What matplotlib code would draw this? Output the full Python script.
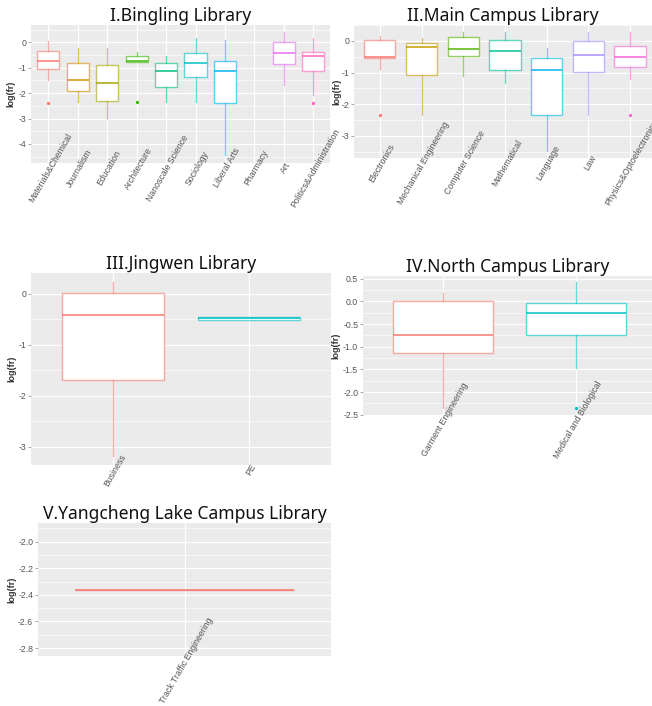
import numpy as np
import matplotlib
matplotlib.use("Agg")
import matplotlib.pyplot as plt
from matplotlib.patches import Rectangle
from matplotlib.colors import to_rgba
from matplotlib.ticker import MultipleLocator, FormatStrFormatter

plt.rcParams['axes.unicode_minus'] = False
plt.rcParams['font.family'] = ['Liberation Sans', 'DejaVu Sans']

# ---------------- data ----------------
p1_title = "I.Bingling Library"
p1_cats = ["Materials&Chemical", "Journalism", "Education", "Architecture", "Nanoscale Science",
           "Sociology", "Liberal Arts", "Pharmacy", "Art", "Politics&Administration"]
p1_q1 = [-1.05, -1.92, -2.31, -0.76, -1.76, -1.38, -2.38, np.nan, -0.85, -1.12]
p1_med = [-0.74, -1.50, -1.60, -0.74, -1.12, -0.83, -1.12, np.nan, -0.42, -0.54]
p1_q3 = [-0.36, -0.83, -0.91, -0.54, -0.83, -0.43, -0.75, np.nan, 0.00, -0.39]
p1_lo = [-1.47, -2.34, -3.03, -0.76, -2.34, -2.36, -4.44, np.nan, -1.68, -2.07]
p1_hi = [0.06, -0.21, -0.21, -0.39, -0.54, 0.17, 0.09, np.nan, 0.42, 0.18]
p1_out = [[-2.38], [], [], [-2.36], [], [], [], [], [], [-2.38]]

p2_title = "II.Main Campus Library"
p2_cats = ["Electronics", "Mechanical Engineering", "Computer Science", "Mathematical",
           "Language", "Law", "Physics&Optoelectronics"]
p2_q1 = [-0.54, -1.08, -0.47, -0.92, -2.35, -0.98, -0.83]
p2_med = [-0.52, -0.20, -0.27, -0.32, -0.93, -0.45, -0.52]
p2_q3 = [0.03, -0.07, 0.11, 0.04, -0.53, -0.02, -0.15]
p2_lo = [-0.89, -2.34, -1.10, -1.32, -3.49, -2.34, -1.21]
p2_hi = [0.14, 0.08, 0.29, 0.27, -0.23, 0.27, 0.29]
p2_out = [[-2.35], [], [], [], [], [], [-2.35]]

p3_title = "III.Jingwen Library"
p3_cats = ["Business", "PE"]
p3_q1 = [-1.69, -0.51]
p3_med = [-0.42, -0.48]
p3_q3 = [0.02, -0.45]
p3_lo = [-3.18, -0.51]
p3_hi = [0.24, -0.45]
p3_out = [[], []]

p4_title = "IV.North Campus Library"
p4_cats = ["Garment Engineering", "Medical and Biological"]
p4_q1 = [-1.13, -0.74]
p4_med = [-0.74, -0.26]
p4_q3 = [0.00, -0.04]
p4_lo = [-2.34, -1.47]
p4_hi = [0.19, 0.43]
p4_out = [[], [-2.35]]

p5_title = "V.Yangcheng Lake Campus Library"
p5_cats = ["Track Traffic Engineering"]
p5_q1 = [-2.36]
p5_med = [-2.36]
p5_q3 = [-2.36]
p5_lo = [-2.36]
p5_hi = [-2.36]
p5_out = [[]]

pal10 = ["#F8766D", "#D89000", "#A3A500", "#39B600", "#00BF7D", "#00BFC4", "#00B0F6", "#9590FF", "#E76BF3", "#FF62BC"]
pal7 = ["#F8766D", "#C49A00", "#53B400", "#00C094", "#00B6EB", "#A58AFF", "#FB61D7"]
pal2 = ["#F8766D", "#00BFC4"]
pal1 = ["#F8766D"]

W, H = 652, 706
fig = plt.figure(figsize=(W / 100, H / 100), dpi=100)
fig.patch.set_facecolor("white")


def make_panel(rect, title, cats, q1, med, q3, lo, hi, outs, colors, ylim, major, fmt,
               xpad, ylab_dx, title_pad, clipx):
    l, t, r, b = rect
    ax = fig.add_axes([l / W, 1 - b / H, (r - l) / W, (b - t) / H])
    ax.set_facecolor("#EBEBEB")
    n = len(cats)
    pos = np.arange(1, n + 1)
    for i in range(n):
        if np.isnan(med[i]):
            continue
        st = [dict(med=med[i], q1=q1[i], q3=q3[i], whislo=lo[i], whishi=hi[i], fliers=outs[i])]
        c = colors[i]
        ce = to_rgba(c, 0.6)
        ax.bxp(st, positions=[pos[i]], widths=0.75, patch_artist=True, showcaps=False,
               boxprops=dict(facecolor="white", edgecolor=ce, linewidth=1.0),
               whiskerprops=dict(color=ce, linewidth=0.9),
               medianprops=dict(color=to_rgba(c, 0.9), linewidth=1.2),
               flierprops=dict(marker="o", markersize=1.3, markerfacecolor=c,
                               markeredgecolor=c), zorder=3)
    ax.set_xlim(xpad[0], n + xpad[1])
    ax.set_ylim(*ylim)
    ax.yaxis.set_major_locator(MultipleLocator(major))
    ax.yaxis.set_minor_locator(MultipleLocator(major / 2))
    ax.yaxis.set_major_formatter(FormatStrFormatter(fmt))
    ax.set_xticks(pos)
    ax.set_xticklabels([])
    ax.tick_params(axis="x", length=0)
    ax.tick_params(axis="y", which="major", length=2.5, width=0.6, color="#999999",
                   labelsize=6.3, labelcolor="#555555", pad=1)
    ax.tick_params(axis="y", which="minor", length=0)
    ax.grid(True, which="major", color="white", linewidth=0.9, zorder=0)
    ax.grid(True, which="minor", axis="y", color="white", linewidth=0.45, zorder=0)
    ax.set_axisbelow(True)
    for s in ax.spines.values():
        s.set_visible(False)
    ax.set_ylabel("log(fr)", fontsize=6.5, color="#333333", fontweight="bold")
    ax.yaxis.set_label_coords(-ylab_dx / (r - l), 0.5)
    ax.set_title(title, fontsize=12.6, family="Noto Sans", color="#111111", pad=title_pad)
    clip = Rectangle((clipx[0] / W, 0), (clipx[1] - clipx[0]) / W, 1,
                     transform=fig.transFigure, facecolor="none", edgecolor="none")
    for i, cat in enumerate(cats):
        txt = ax.text(pos[i], ylim[0], cat, rotation=60, ha="center", va="center",
                      rotation_mode="anchor", fontsize=6.3, color="#555555",
                      zorder=5, clip_on=False)
        txt.set_transform(ax.transData + matplotlib.transforms.ScaledTranslation(
            0.02, -0.05, fig.dpi_scale_trans))
        txt.set_clip_path(clip)
    return ax


make_panel((31, 25, 330, 163), p1_title, p1_cats, p1_q1, p1_med, p1_q3, p1_lo, p1_hi, p1_out,
           pal10, (-4.75, 0.68), 1, "%d", (0.41, 0.57), 16, 2, (0, 331))
make_panel((354, 25, 652, 158), p2_title, p2_cats, p2_q1, p2_med, p2_q3, p2_lo, p2_hi, p2_out,
           pal7, (-3.7, 0.5), 1, "%d", (0.38, 0.53), 13, 2, (331, 652))
make_panel((31, 273, 331, 465), p3_title, p3_cats, p3_q1, p3_med, p3_q3, p3_lo, p3_hi, p3_out,
           pal2, (-3.36, 0.41), 1, "%d", (0.4, 0.6), 15, 1.5, (0, 331))
make_panel((363, 276, 652, 415), p4_title, p4_cats, p4_q1, p4_med, p4_q3, p4_lo, p4_hi, p4_out,
           pal2, (-2.505, 0.56), 0.5, "%.1f", (0.4, 0.57), 23, 2, (331, 652))
make_panel((38, 523, 331, 656), p5_title, p5_cats, p5_q1, p5_med, p5_q3, p5_lo, p5_hi, p5_out,
           pal1, (-2.86, -1.86), 0.2, "%.1f", (0.5, 0.5), 22, 2.5, (0, 331))

fig.savefig("out.png", dpi=100, facecolor="white")
